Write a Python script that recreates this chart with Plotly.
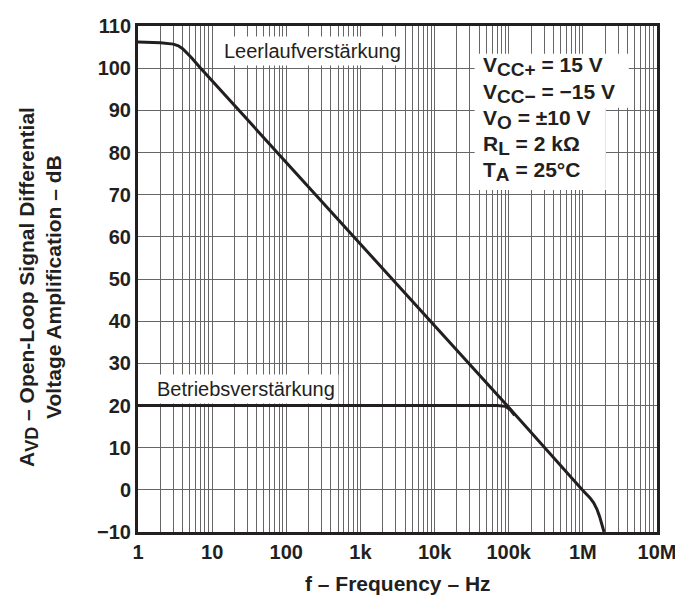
import plotly.graph_objects as go

# Open-loop gain (Leerlaufverstärkung)
ol_freq = [1, 2, 3, 3.5, 4, 4.5, 5.2, 7, 95000, 980000, 1100000, 1250000, 1400000,
           1550000, 1680000, 1800000, 1880000, 1930000]
ol_db = [106.2, 106.0, 105.7, 105.3, 104.6, 103.8, 102.6, 100, 20, 0, -0.9, -1.9, -3.1,
         -4.6, -6.3, -8.0, -9.2, -10]

# Closed-loop gain (Betriebsverstärkung)
cl_freq = [1, 70000, 90000, 105000, 120000]
cl_db = [20, 20, 19.8, 19.0, 17.7]

x_tick_vals = [1, 10, 100, 1000, 10000, 100000, 1000000, 10000000]
x_tick_text = ["1", "10", "100", "1k", "10k", "100k", "1M", "10M"]
y_tick_vals = list(range(-10, 111, 10))
y_tick_text = ["\u221210" if v < 0 else str(v) for v in y_tick_vals]

SUB = "<sub><span style='font-size:19px'>{}</span></sub>"
cond_lines = ["V" + SUB.format("CC+") + " = 15 V",
              "V" + SUB.format("CC\u2212") + " = \u221215 V",
              "V" + SUB.format("O") + " = \u00b110 V",
              "R" + SUB.format("L") + " = 2 k\u03a9",
              "T" + SUB.format("A") + " = 25\u00b0C"]

minor_vals = [m * d for d in x_tick_vals[:-1] for m in range(2, 10)]

FONT = "Liberation Sans, Arial, sans-serif"
INK = "#231f20"
GRID = "#666666"

fig = go.Figure()
fig.add_trace(go.Scatter(x=cl_freq, y=cl_db, mode="lines",
                         line=dict(color=INK, width=3), showlegend=False))
fig.add_trace(go.Scatter(x=ol_freq, y=ol_db, mode="lines",
                         line=dict(color=INK, width=3), showlegend=False))

# page body has an 8px margin, so the figure is shifted by 8px
fig.update_layout(
    width=675, height=594,
    margin=dict(l=130, r=25, t=7, b=70),
    paper_bgcolor="white", plot_bgcolor="white",
    font=dict(family=FONT, color=INK),
)
fig.update_xaxes(
    type="log", range=[0, 7],
    tickmode="array", tickvals=x_tick_vals, ticktext=x_tick_text,
    tickfont=dict(family=FONT, size=20, weight="bold", color=INK),
    showgrid=True, gridcolor=GRID, gridwidth=1,
    minor=dict(tickmode="array", tickvals=minor_vals, showgrid=True,
               gridcolor=GRID, gridwidth=1, ticks=""),
    showline=True, linecolor=INK, linewidth=3, mirror=True,
    ticks="", zeroline=False, ticklabeloverflow="allow",
)
fig.update_yaxes(
    range=[-10, 110],
    tickmode="array", tickvals=y_tick_vals, ticktext=y_tick_text,
    tickfont=dict(family=FONT, size=20, weight="bold", color=INK),
    showgrid=True, gridcolor=GRID, gridwidth=1,
    showline=True, linecolor=INK, linewidth=3, mirror=True,
    ticks="", zeroline=False, ticklabeloverflow="allow",
)

# white boxes behind operating conditions
fig.add_shape(type="rect", xref="x", yref="y", x0=10**4.54, x1=10**6.62, y0=90.6, y1=103.4,
              fillcolor="white", line=dict(width=0), layer="above")
fig.add_shape(type="rect", xref="x", yref="y", x0=10**4.54, x1=10**6.31, y0=71.1, y1=91.0,
              fillcolor="white", line=dict(width=0), layer="above")
cond_y = [100.3, 94.0, 87.8, 81.7, 75.5]
for txt, yy in zip(cond_lines, cond_y):
    fig.add_annotation(x=4.63, y=yy, xref="x", yref="y", text=txt, showarrow=False,
                       xanchor="left", yanchor="middle",
                       font=dict(family=FONT, size=21, weight="bold", color=INK))

fig.add_annotation(x=2.355, y=104.0, xref="x", yref="y", text="Leerlaufverstärkung",
                   showarrow=False, bgcolor="white", borderpad=3,
                   font=dict(family=FONT, size=20, color=INK))
fig.add_annotation(x=1.453, y=23.8, xref="x", yref="y", text="Betriebsverstärkung",
                   showarrow=False, bgcolor="white", borderpad=3,
                   font=dict(family=FONT, size=20, color=INK))

# axis titles
fig.add_annotation(x=0.5, y=-0.102, xref="paper", yref="paper", yanchor="middle",
                   text="f \u2013 Frequency \u2013 Hz", showarrow=False,
                   font=dict(family=FONT, size=21, weight="bold", color=INK))
fig.add_annotation(x=-0.19, y=0.485, xref="paper", yref="paper", xanchor="center",
                   textangle=-90,
                   text="A<sub><span style='font-size:18px'>VD</span></sub> \u2013 Open-Loop Signal Differential<br>Voltage Amplification \u2013 dB",
                   showarrow=False,
                   font=dict(family=FONT, size=21, weight="bold", color=INK))

fig.write_html("out.html")
